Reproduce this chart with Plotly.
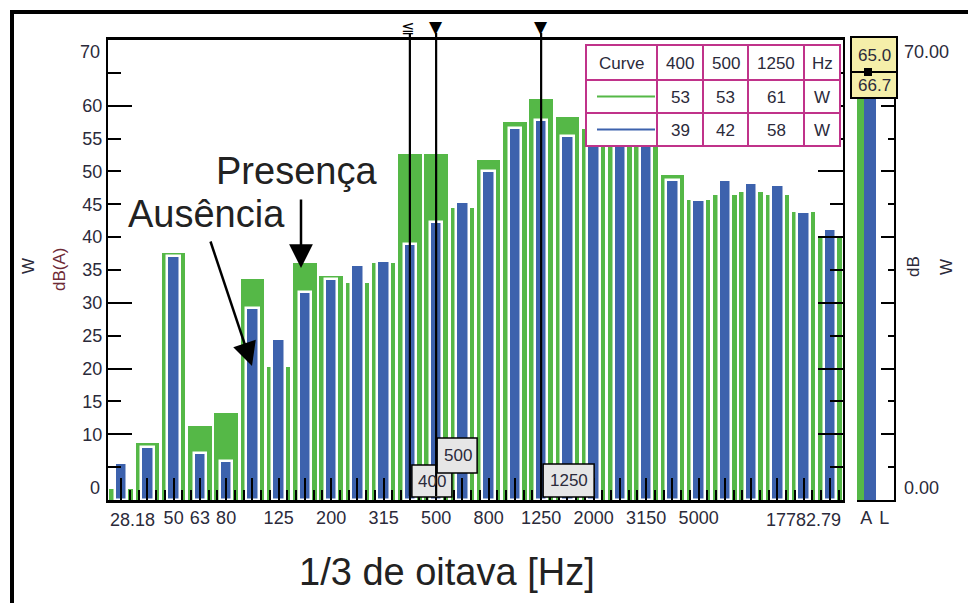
import plotly.graph_objects as go

# ---------------- data ----------------
bands = ["31.5", "40", "50", "63", "80", "100", "125", "160", "200", "250", "315",
         "400", "500", "630", "800", "1000", "1250", "1600", "2000", "2500", "3150",
         "4000", "5000", "6300", "8000", "10000", "12500", "16000"]
presenca = [1.7, 8.7, 37.6, 11.2, 13.3, 33.7, 20.2, 36.0, 34.1, 33.0, 36.0,
            52.6, 52.6, 44.5, 51.7, 57.5, 61.0, 58.3, 56.4, 55.0, 55.5,
            49.5, 45.7, 46.4, 46.8, 46.4, 43.8, 40.1]
ausencia = [5.7, 8.0, 37.1, 7.1, 5.9, 29.2, 24.5, 31.6, 33.7, 35.7, 36.4,
            38.9, 42.3, 45.3, 50.0, 56.6, 57.8, 55.4, 55.0, 54.5, 54.5,
            48.7, 45.6, 48.7, 48.3, 47.9, 43.8, 41.3]
labelled_bands = ["50", "63", "80", "125", "200", "315", "500", "800", "1250", "2000", "3150", "5000"]
edge_labels = ["28.18", "17782.79"]
marker_bands = ["400", "500", "1250"]
y_tick_vals = [5, 10, 15, 20, 25, 30, 35, 40, 45, 50, 55, 60, 65]
y_tick_text = ["", "10", "15", "20", "25", "30", "35", "40", "45", "50", "55", "60", ""]
side_cats = ["A", "L"]
side_vals = [65.0, 66.7]
side_range_text = ["0.00", "70.00"]

GREEN = "#55b847"
BLUE = "#3d62ad"
MAG = "#c0338a"
TXT = "#2b2a3a"
FONT = "Liberation Sans, Arial, sans-serif"

W, H = 968, 603
L, R, T, B = 108, 843, 40, 500
NB = len(bands)
BW = (R - L) / NB


def px(x):
    return x / W


def py(y):
    return 1 - y / H


xs = [i + 0.5 for i in range(NB)]

fig = go.Figure()
fig.add_trace(go.Bar(x=xs, y=presenca, width=0.9, name="Presença",
                     marker=dict(color=GREEN, line=dict(width=0)),
                     xaxis="x", yaxis="y", showlegend=False))
fig.add_trace(go.Bar(x=xs, y=ausencia, width=0.47, name="Ausência",
                     marker=dict(color=BLUE, line=dict(color="white", width=2.5)),
                     xaxis="x", yaxis="y", showlegend=False))
# side panel (A / L)
fig.add_trace(go.Bar(x=[0.19], y=[side_vals[0]], width=0.38, marker=dict(color=GREEN, line=dict(width=0)),
                     xaxis="x2", yaxis="y2", showlegend=False, name=side_cats[0]))
fig.add_trace(go.Bar(x=[0.69], y=[side_vals[1]], width=0.6, marker=dict(color=BLUE, line=dict(width=0)),
                     xaxis="x2", yaxis="y2", showlegend=False, name=side_cats[1]))
# helper traces for extra tick axes
fig.add_trace(go.Scatter(x=[], y=[], xaxis="x", yaxis="y3", showlegend=False))
fig.add_trace(go.Scatter(x=[], y=[], xaxis="x", yaxis="y4", showlegend=False))

tickvals = xs
ticktext = [b if b in labelled_bands else "" for b in bands]
minor_vals = []
for i in range(NB):
    minor_vals += [i + 0.5 + 1 / 3, i + 0.5 + 2 / 3]
minor_vals = [v for v in minor_vals if v < NB]

ydom = [py(B), py(T)]

fig.update_layout(
    width=W, height=H, margin=dict(l=0, r=0, t=0, b=0),
    paper_bgcolor="white", plot_bgcolor="white",
    barmode="overlay", bargap=0,
    font=dict(family=FONT, size=18, color=TXT),
    xaxis=dict(domain=[px(L), px(R)], range=[0, NB], showgrid=False, zeroline=False,
               showline=True, linecolor="black", linewidth=2.5, mirror=True,
               ticks="inside", ticklen=22, tickwidth=2, tickcolor="black",
               tickmode="array", tickvals=tickvals, ticktext=ticktext,
               tickfont=dict(size=18, color=TXT),
               minor=dict(tickmode="array", tickvals=minor_vals, ticks="inside",
                          ticklen=10, tickwidth=2, tickcolor="black")),
    yaxis=dict(domain=ydom, range=[0, 70], showgrid=False, zeroline=False,
               showline=True, linecolor="black", linewidth=2, mirror="ticks",
               ticks="inside", ticklen=13, tickwidth=2, tickcolor="black",
               tickmode="array", tickvals=y_tick_vals, ticktext=y_tick_text,
               tickfont=dict(size=18, color=TXT)),
    yaxis3=dict(overlaying="y", anchor="x", side="left", range=[0, 70], showgrid=False,
                zeroline=False, showline=False, ticks="inside", ticklen=24, tickwidth=2,
                tickcolor="black", tickmode="array", tickvals=[10, 20, 30, 60],
                showticklabels=False),
    yaxis4=dict(overlaying="y", anchor="x", side="right", range=[0, 70], showgrid=False,
                zeroline=False, showline=False, ticks="inside", ticklen=25, tickwidth=2,
                tickcolor="black", tickmode="array", tickvals=[10, 20, 30, 40, 50, 60],
                showticklabels=False),
    xaxis2=dict(domain=[px(857), px(894)], range=[0, 1.98], anchor="y2", showgrid=False,
                zeroline=False, showline=True, linecolor="black", linewidth=2,
                ticks="", tickmode="array", tickvals=[0.49, 1.46], ticktext=side_cats,
                tickfont=dict(size=18, color=TXT)),
    yaxis2=dict(domain=ydom, range=[0, 70], anchor="x2", side="right", showgrid=False,
                zeroline=False, showline=True, linecolor="black", linewidth=2,
                ticks="inside", ticklen=13, tickwidth=2, tickcolor="black",
                tickmode="linear", tick0=0, dtick=10, showticklabels=False,
                minor=dict(ticks="inside", ticklen=6, tickwidth=2, tickcolor="black",
                           dtick=5, tick0=0)),
)

shapes = []
ann = []


def text_ann(x, y, text, size=18, color=TXT, xanchor="center", angle=0, family=None):
    f = dict(size=size, color=color)
    if family:
        f["family"] = family
    return dict(xref="paper", yref="paper", x=px(x), y=py(y), text=text, showarrow=False,
                xanchor=xanchor, yanchor="middle", textangle=angle, font=f)


# outer frame
shapes.append(dict(type="rect", xref="paper", yref="paper", x0=px(12), x1=px(1100),
                   y0=py(800), y1=py(12), line=dict(color="black", width=4), layer="below"))

# marker label boxes (400 and 1250 under the lines, 500 above)
box_specs = {"400": (40, 465, 497), "500": (40, 438, 473), "1250": (51, 464, 497)}


def band_x(b):
    return bands.index(b) + 0.5


for b in ["400", "1250"]:
    w, y0, y1 = box_specs[b]
    xc = band_x(b)
    shapes.append(dict(type="rect", xref="x", yref="paper", x0=xc + 2 / BW, x1=xc + (2 + w) / BW,
                       y0=py(y1), y1=py(y0), fillcolor="#e6e6e6",
                       line=dict(color="black", width=1.5), layer="above"))
for b in marker_bands:
    xc = band_x(b)
    shapes.append(dict(type="line", xref="x", yref="paper", x0=xc, x1=xc,
                       y0=py(496), y1=py(33), line=dict(color="black", width=2.2), layer="above"))
w, y0, y1 = box_specs["500"]
xc = band_x("500")
shapes.append(dict(type="rect", xref="x", yref="paper", x0=xc + 1 / BW, x1=xc + (1 + w) / BW,
                   y0=py(y1), y1=py(y0), fillcolor="#e6e6e6",
                   line=dict(color="black", width=1.5), layer="above"))
for b in marker_bands:
    w, y0, y1 = box_specs[b]
    xc = band_x(b)
    ann.append(dict(xref="x", yref="paper", x=xc + (2 + w / 2) / BW, y=py((y0 + y1) / 2),
                    text=b, showarrow=False, font=dict(size=17, color=TXT),
                    xanchor="center", yanchor="middle"))

# top markers
ann.append(dict(xref="x", yref="paper", x=band_x("400") - 2 / BW, y=py(27), text="≦", showarrow=False,
                font=dict(size=16, color="black", family="DejaVu Sans"), xanchor="center", yanchor="middle"))
for b in ["500", "1250"]:
    ann.append(dict(xref="x", yref="paper", x=band_x(b), y=py(27), text="▼", showarrow=False,
                    font=dict(size=17, color="black", family="DejaVu Sans"), xanchor="center",
                    yanchor="middle"))

# edge labels of x axis
ann.append(dict(xref="x", yref="paper", x=0, y=py(520), text=edge_labels[0], showarrow=False,
                xanchor="left", yanchor="middle", font=dict(size=18, color=TXT)))
ann.append(dict(xref="x", yref="paper", x=NB, y=py(520), text=edge_labels[1], showarrow=False,
                xanchor="right", yanchor="middle", font=dict(size=18, color=TXT)))
# y end labels
ann.append(text_ann(102, 52, "70", xanchor="right"))
ann.append(text_ann(102, 488, "0", xanchor="right"))
# y titles
ann.append(text_ann(28, 266, "W", size=17, angle=-90))
ann.append(text_ann(59, 270, "dB(A)", size=17, color="#6e2a36", angle=-90))
# x title
ann.append(text_ann(447, 572, "1/3 de oitava [Hz]", size=38, color="#222"))

# big labels and arrows
ann.append(text_ann(296, 171, "Presença", size=38, color="#222"))
ann.append(text_ann(206, 214, "Ausência", size=38, color="#222"))
ann.append(dict(xref="paper", yref="paper", x=px(301), y=py(268), text="", showarrow=True,
                axref="pixel", ayref="pixel", ax=0, ay=-70, arrowhead=2, arrowsize=1.9,
                arrowwidth=2.5, arrowcolor="black", standoff=0))
ann.append(dict(xref="paper", yref="paper", x=px(252), y=py(366), text="", showarrow=True,
                axref="pixel", ayref="pixel", ax=-42, ay=-126, arrowhead=2, arrowsize=1.9,
                arrowwidth=2.5, arrowcolor="black", standoff=0))

# readings table
cols = [586, 657, 703, 748, 804, 840]
rows = [45, 80, 113, 146]
shapes.append(dict(type="rect", xref="paper", yref="paper", x0=px(cols[0]), x1=px(cols[-1]),
                   y0=py(rows[-1]), y1=py(rows[0]), fillcolor="white",
                   line=dict(color=MAG, width=2), layer="above"))
for c in cols[1:-1]:
    shapes.append(dict(type="line", xref="paper", yref="paper", x0=px(c), x1=px(c),
                       y0=py(rows[-1]), y1=py(rows[0]), line=dict(color=MAG, width=2), layer="above"))
for r in rows[1:-1]:
    shapes.append(dict(type="line", xref="paper", yref="paper", x0=px(cols[0]), x1=px(cols[-1]),
                       y0=py(r), y1=py(r), line=dict(color=MAG, width=2), layer="above"))

g_read = [str(int(round(presenca[bands.index(b)]))) for b in marker_bands]
b_read = [str(int(round(ausencia[bands.index(b)]))) for b in marker_bands]
table_rows = [["Curve"] + marker_bands + ["Hz"], [""] + g_read + ["W"], [""] + b_read + ["W"]]
for ri, row in enumerate(table_rows):
    yc = (rows[ri] + rows[ri + 1]) / 2 + 1
    for ci, txt in enumerate(row):
        if not txt:
            continue
        xc = (cols[ci] + cols[ci + 1]) / 2
        ann.append(text_ann(xc, yc, txt, size=17))
for color, r in [(GREEN, 1), (BLUE, 2)]:
    yc = (rows[r] + rows[r + 1]) / 2
    shapes.append(dict(type="line", xref="paper", yref="paper", x0=px(597), x1=px(655),
                       y0=py(yc), y1=py(yc), line=dict(color=color, width=2), layer="above"))

# side readout box
shapes.append(dict(type="rect", xref="paper", yref="paper", x0=px(851), x1=px(897), y0=py(98), y1=py(37),
                   fillcolor="#f5efa9", line=dict(color="black", width=2), layer="above"))
shapes.append(dict(type="line", xref="paper", yref="paper", x0=px(851), x1=px(897), y0=py(72), y1=py(72),
                   line=dict(color="black", width=2), layer="above"))
shapes.append(dict(type="rect", xref="paper", yref="paper", x0=px(864), x1=px(872), y0=py(76), y1=py(68),
                   fillcolor="black", line=dict(color="black", width=0), layer="above"))
ann.append(text_ann(874, 55, f"{side_vals[0]:.1f}", size=17))
ann.append(text_ann(874, 85, f"{side_vals[1]:.1f}", size=17))
ann.append(text_ann(902, 52, side_range_text[1], xanchor="left"))
ann.append(text_ann(902, 488, side_range_text[0], xanchor="left"))
ann.append(text_ann(913, 267, "dB", size=17, angle=-90))
ann.append(text_ann(946, 267, "W", size=17, angle=-90))

fig.update_layout(shapes=shapes, annotations=ann)
fig.write_html("out.html")
